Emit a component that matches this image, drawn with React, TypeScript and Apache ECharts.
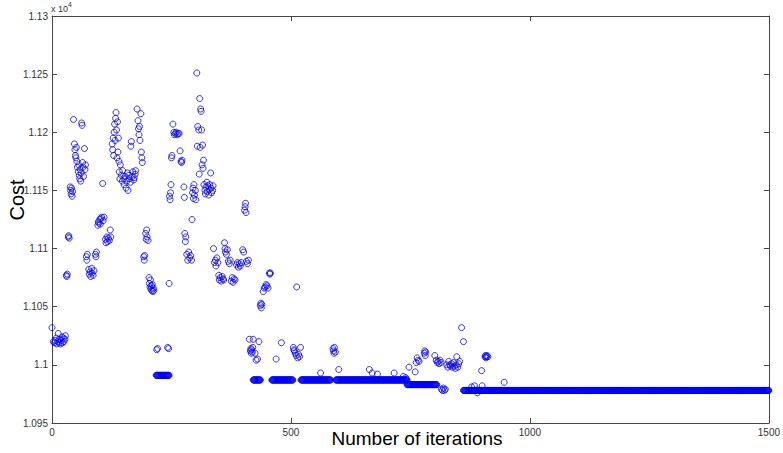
import React, { useEffect, useRef } from 'react';
import * as echarts from 'echarts';

// Scattered cost values: [iteration, cost (x 10^4)]
const scatterPoints: [number, number][] = [
  [0, 1.1032], [3, 1.102], [5, 1.1019], [7, 1.1021], [9, 1.1023], [10, 1.1018], [12, 1.102], [13, 1.1027],
  [15, 1.1019], [16, 1.1022], [18, 1.1018], [19, 1.1021], [21, 1.1024], [22, 1.1019], [24, 1.1023], [25, 1.102],
  [27, 1.1022], [28, 1.1025],
  [30, 1.1077], [31, 1.1076], [32, 1.1078], [34, 1.111], [35, 1.1111], [36, 1.1109],
  [38, 1.1153], [39, 1.115], [40, 1.1147], [41, 1.1152], [42, 1.1145], [43, 1.1149],
  [45, 1.1211], [47, 1.119], [48, 1.1185], [49, 1.118], [50, 1.1178], [51, 1.1187],
  [52, 1.1175], [53, 1.117], [55, 1.1166], [56, 1.1172], [57, 1.1163], [58, 1.116], [59, 1.1168], [60, 1.1158],
  [61, 1.1165], [62, 1.1208], [63, 1.1206], [64, 1.1174], [65, 1.117], [66, 1.1162], [68, 1.1186], [69, 1.1168], [70, 1.1172],
  [72, 1.1093], [73, 1.109], [74, 1.1095],
  [77, 1.1082], [78, 1.1078], [80, 1.108], [81, 1.1076], [83, 1.1083], [84, 1.1079], [86, 1.1077], [88, 1.1081],
  [91, 1.1095], [92, 1.1093], [93, 1.1097],
  [96, 1.112], [97, 1.1123], [98, 1.1122], [100, 1.1125], [101, 1.1121], [102, 1.1126], [104, 1.1127], [106, 1.1156],
  [107, 1.1124], [109, 1.1127],
  [112, 1.1108], [113, 1.1105], [115, 1.111], [116, 1.1106], [118, 1.1109], [120, 1.1107], [122, 1.1116], [123, 1.111],
  [126, 1.119], [127, 1.1185], [128, 1.1195], [129, 1.118], [130, 1.12], [131, 1.1207], [132, 1.1193], [133, 1.1212],
  [134, 1.1217], [135, 1.1202], [136, 1.1178], [137, 1.1209], [138, 1.1183], [139, 1.1195], [140, 1.1175], [141, 1.1166],
  [142, 1.116], [143, 1.1172],
  [145, 1.1163], [147, 1.1158], [148, 1.1167], [150, 1.116], [151, 1.1155], [153, 1.1162], [155, 1.1152], [156, 1.1158],
  [158, 1.1165], [159, 1.115], [161, 1.1163], [162, 1.116], [164, 1.1157], [165, 1.1188], [166, 1.1192], [168, 1.1162],
  [169, 1.1166], [171, 1.1159], [172, 1.1161], [174, 1.1164], [175, 1.1167],
  [178, 1.122], [180, 1.121], [181, 1.1203], [182, 1.1198], [183, 1.1205], [184, 1.1193], [186, 1.1216], [187, 1.1183],
  [188, 1.1178], [189, 1.1174],
  [192, 1.1093], [193, 1.109], [194, 1.1094],
  [196, 1.1113], [197, 1.1108], [198, 1.1116], [199, 1.111], [201, 1.1107],
  [203, 1.1075], [204, 1.107], [205, 1.1067], [206, 1.1073], [207, 1.1065], [208, 1.1068], [209, 1.1064], [210, 1.1069],
  [211, 1.1063], [212, 1.1066], [213, 1.1064],
  [219, 1.1013], [221, 1.1014], [242, 1.1015], [244, 1.1014],
  [245, 1.107], [246, 1.1145], [247, 1.1142], [248, 1.1148], [249, 1.1155], [250, 1.1178], [251, 1.118], [253, 1.1207],
  [255, 1.12], [256, 1.1198], [258, 1.1199], [260, 1.12], [262, 1.1198], [264, 1.1199], [266, 1.1199],
  [268, 1.1184], [270, 1.1175], [271, 1.1174], [272, 1.1176],
  [276, 1.1153], [277, 1.1144], [278, 1.1113], [279, 1.1106], [280, 1.111],
  [282, 1.1095], [284, 1.109], [286, 1.1097], [288, 1.1092], [290, 1.1094], [292, 1.109],
  [293, 1.1125], [294, 1.1148], [295, 1.1152], [296, 1.1143], [297, 1.1155], [298, 1.1146], [300, 1.115], [301, 1.1142],
  [303, 1.1251], [304, 1.1188], [305, 1.1205], [307, 1.1202], [308, 1.1164], [309, 1.1229], [310, 1.1187], [311, 1.122],
  [312, 1.1218], [313, 1.1202], [314, 1.1172], [315, 1.1189], [316, 1.1169], [317, 1.1176],
  [318, 1.1155], [320, 1.115], [321, 1.1147], [322, 1.1153], [324, 1.1157], [325, 1.1149], [326, 1.1154], [328, 1.1146],
  [329, 1.1151], [330, 1.1155], [332, 1.1165], [333, 1.1152], [334, 1.1148], [336, 1.115], [337, 1.1154],
  [338, 1.11], [340, 1.1088], [342, 1.109], [343, 1.1085], [345, 1.1092], [347, 1.1088], [349, 1.1077], [350, 1.1073],
  [352, 1.1075], [354, 1.1072], [356, 1.1076], [358, 1.1074], [359, 1.1073],
  [361, 1.1105], [362, 1.11], [363, 1.1097], [365, 1.1095], [367, 1.1099], [369, 1.1089], [371, 1.1087], [373, 1.109],
  [375, 1.1072], [377, 1.1075], [379, 1.1071], [381, 1.1074], [383, 1.1073], [386, 1.1086], [388, 1.1088], [390, 1.1084],
  [392, 1.1087], [394, 1.1085], [396, 1.1088], [399, 1.1099], [401, 1.1097], [403, 1.1133], [404, 1.1136], [405, 1.1139],
  [406, 1.1131], [407, 1.1089], [409, 1.1087], [411, 1.109],
  [413, 1.1022], [415, 1.1012], [416, 1.1014], [417, 1.101], [418, 1.1013], [419, 1.1011], [420, 1.1015], [421, 1.1022],
  [425, 1.101], [427, 1.1004], [430, 1.1005], [433, 1.102], [436, 1.1051], [437, 1.1053], [438, 1.1049], [439, 1.1052],
  [442, 1.1063], [444, 1.1066], [446, 1.1067], [448, 1.1069], [450, 1.1068], [452, 1.1066], [455, 1.1079], [456, 1.1078],
  [457, 1.1079],
  [469, 1.1005], [480, 1.1019], [505, 1.1015], [506, 1.1013], [507, 1.1012], [509, 1.101], [511, 1.1008], [512, 1.1067],
  [514, 1.1006], [516, 1.1009], [518, 1.1007], [520, 1.1015],
  [562, 1.0993], [588, 1.1014], [589, 1.1012], [590, 1.101], [591, 1.1015], [593, 1.1011], [600, 1.0996],
  [664, 1.0996], [670, 1.0993], [681, 1.0992], [716, 1.0993], [735, 1.099], [740, 1.0989],
  [747, 1.0998], [760, 1.0994], [762, 1.1002], [764, 1.1006], [766, 1.1004], [768, 1.1003],
  [779, 1.101], [780, 1.1012], [781, 1.1008], [782, 1.1011],
  [801, 1.1008], [804, 1.1004], [806, 1.1002], [808, 1.1003], [810, 1.1001], [812, 1.1004], [814, 1.1002],
  [815, 1.0979], [817, 1.0978], [819, 1.098], [821, 1.0978], [823, 1.0979],
  [826, 1.1], [828, 1.0998], [830, 1.1003], [832, 1.1], [834, 1.0999], [836, 1.1001], [838, 1.0998], [840, 1.1002],
  [842, 1.0999], [844, 1.0997], [846, 1.1], [847, 1.1007], [849, 1.0998], [851, 1.1001], [853, 1.1003],
  [857, 1.1032], [861, 1.102],
  [878, 1.0981], [884, 1.0982], [890, 1.0976], [899, 1.0995], [900, 1.0982], [906, 1.1007], [907, 1.1008], [908, 1.1006],
  [909, 1.1007], [910, 1.1008], [912, 1.1007], [946, 1.0985],
];

// Flat stretches where the cost stays constant: [first iteration, last iteration, cost]
const flatRuns: [number, number, number][] = [
  [218, 245, 1.0991],
  [421, 436, 1.0987],
  [460, 504, 1.0987],
  [521, 583, 1.0987],
  [594, 743, 1.0987],
  [743, 805, 1.0983],
  [861, 1500, 1.0978],
];

const xTicks = { min: 0, max: 1500, interval: 500 };
const yTicks = { min: 1.095, max: 1.13, interval: 0.005 };

function buildData(): [number, number][] {
  const out: [number, number][] = scatterPoints.slice();
  flatRuns.forEach(([a, b, v]) => {
    for (let i = a; i <= b; i++) out.push([i, v]);
  });
  return out;
}

export default function App() {
  const ref = useRef<HTMLDivElement>(null);
  useEffect(() => {
    document.body.style.margin = '0';
    document.body.style.overflow = 'hidden';
    document.documentElement.style.overflow = 'hidden';
    const chart = echarts.init(ref.current!, null, { renderer: 'svg', width: 783, height: 453 });
    const axisColor = '#444';
    const font = 'Arial, "Liberation Sans", Helvetica, sans-serif';
    const baseX = {
      type: 'value',
      min: xTicks.min,
      max: xTicks.max,
      interval: xTicks.interval,
      axisLine: { show: true, onZero: false, lineStyle: { color: axisColor, width: 1 } },
      axisTick: { show: true, inside: true, length: 5, lineStyle: { color: axisColor } },
      splitLine: { show: false },
    };
    const baseY = {
      type: 'value',
      min: yTicks.min,
      max: yTicks.max,
      interval: yTicks.interval,
      axisLine: { show: true, onZero: false, lineStyle: { color: axisColor, width: 1 } },
      axisTick: { show: true, inside: true, length: 5, lineStyle: { color: axisColor } },
      splitLine: { show: false },
    };
    chart.setOption({
      animation: false,
      backgroundColor: '#fff',
      grid: { left: 52, right: 8, top: 16, bottom: 30, containLabel: false },
      xAxis: [
        {
          ...baseX,
          position: 'bottom',
          axisLabel: {
            color: '#333',
            fontSize: 10,
            fontFamily: font,
            margin: 4,
            formatter: (v: number) => String(Math.round(v)),
          },
        },
        { ...baseX, position: 'top', axisLabel: { show: false } },
      ],
      yAxis: [
        {
          ...baseY,
          position: 'left',
          axisLabel: {
            color: '#333',
            fontSize: 10,
            fontFamily: font,
            margin: 4,
            formatter: (v: number) => Number(v.toFixed(3)).toString(),
          },
        },
        { ...baseY, position: 'right', axisLabel: { show: false } },
      ],
      graphic: [
        {
          type: 'text',
          left: 51,
          top: 4,
          style: { text: 'x 10', fontSize: 9, fill: '#333', fontFamily: font },
        },
        {
          type: 'text',
          left: 68,
          top: 1,
          style: { text: '4', fontSize: 7, fill: '#333', fontFamily: font },
        },
        {
          type: 'text',
          x: 17,
          y: 200,
          rotation: Math.PI / 2,
          style: {
            text: 'Cost',
            fontSize: 20,
            fill: '#000',
            fontFamily: font,
            align: 'center',
            verticalAlign: 'middle',
          },
        },
        {
          type: 'text',
          x: 417,
          y: 438,
          style: {
            text: 'Number of iterations',
            fontSize: 19,
            fill: '#000',
            fontFamily: font,
            align: 'center',
            verticalAlign: 'middle',
          },
        },
      ],
      series: [
        {
          type: 'scatter',
          xAxisIndex: 0,
          yAxisIndex: 0,
          data: buildData(),
          symbol: 'circle',
          symbolSize: 6,
          itemStyle: { color: 'rgba(0,0,0,0)', borderColor: '#0000ff', borderWidth: 1 },
          emphasis: { disabled: true },
          progressive: 0,
          large: false,
        },
      ],
    });
    return () => chart.dispose();
  }, []);
  return (
    <div
      ref={ref}
      style={{ position: 'fixed', left: 0, top: 0, width: 783, height: 453, overflow: 'hidden' }}
    />
  );
}
